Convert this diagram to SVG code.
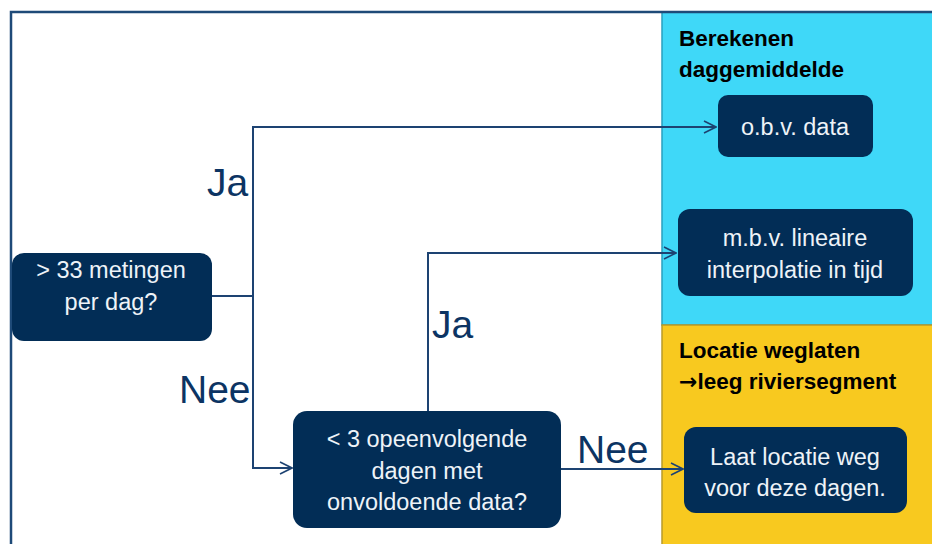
<svg xmlns="http://www.w3.org/2000/svg" width="932" height="544" viewBox="0 0 932 544">
<defs>
<style>
.node rect{fill:#022d56;}
.node text{font-family:"Liberation Sans",Arial,sans-serif;font-size:23.5px;fill:#eef3f8;text-anchor:middle;}
.conn{fill:none;stroke:#1d4372;stroke-width:2;}
.lbl{font-family:"Liberation Sans",Arial,sans-serif;font-size:39px;fill:#0c3463;}
.ttl{font-family:"Liberation Sans",Arial,sans-serif;font-size:22.5px;font-weight:bold;fill:#000;}
.ar{font-family:"DejaVu Sans",sans-serif;font-weight:bold;font-size:22px;}
</style>
<marker id="arr" viewBox="0 0 14 14" refX="13" refY="7" markerWidth="14" markerHeight="14" markerUnits="userSpaceOnUse" orient="auto">
<path d="M1,1 L13,7 L1,13" fill="none" stroke="#1d4372" stroke-width="1.6"/>
</marker>
</defs>
<rect x="0" y="0" width="932" height="544" fill="#fff"/>
<g id="panel-cyan">
<rect x="662" y="12" width="272" height="313" fill="#3fd8f8" stroke="#2aa0bf" stroke-width="1.5"/>
<text class="ttl" x="679" y="46">Berekenen</text>
<text class="ttl" x="679" y="77">daggemiddelde</text>
</g>
<g id="panel-yellow">
<rect x="662" y="325" width="272" height="222" fill="#f8c91f" stroke="#b89a2a" stroke-width="1.5"/>
<text class="ttl" x="679" y="358">Locatie weglaten</text>
<text class="ttl" x="679" y="389"><tspan class="ar">→</tspan>leeg riviersegment</text>
</g>
<path d="M11,546 V12 H934" fill="none" stroke="#1e4a78" stroke-width="2.5"/>
<g id="connectors">
<path class="conn" d="M212,296 H253"/>
<path class="conn" d="M253,468 V127 H716" marker-end="url(#arr)"/>
<path class="conn" d="M253,300 V468 H292" marker-end="url(#arr)"/>
<path class="conn" d="M428,411 V253 H676" marker-end="url(#arr)"/>
<path class="conn" d="M561,469 H683" marker-end="url(#arr)"/>
<text class="lbl" x="207" y="196">Ja</text>
<text class="lbl" x="179" y="403">Nee</text>
<text class="lbl" x="432" y="338">Ja</text>
<text class="lbl" x="577" y="463">Nee</text>
</g>
<g id="n-metingen" class="node">
<rect x="12" y="253" width="200" height="88" rx="12"/>
<text x="111" y="278">&gt; 33 metingen</text>
<text x="111" y="310">per dag?</text>
</g>
<g id="n-opeenvolgend" class="node">
<rect x="293" y="411" width="268" height="117" rx="14"/>
<text x="427" y="447">&lt; 3 opeenvolgende</text>
<text x="427" y="479">dagen met</text>
<text x="427" y="510">onvoldoende data?</text>
</g>
<g id="n-obv" class="node">
<rect x="718" y="95" width="155" height="62" rx="10"/>
<text x="795" y="135">o.b.v. data</text>
</g>
<g id="n-mbv" class="node">
<rect x="678" y="209" width="235" height="87" rx="12"/>
<text x="795" y="246">m.b.v. lineaire</text>
<text x="795" y="278">interpolatie in tijd</text>
</g>
<g id="n-laat" class="node">
<rect x="684" y="427" width="223" height="86" rx="12"/>
<text x="795" y="465">Laat locatie weg</text>
<text x="795" y="496">voor deze dagen.</text>
</g>
</svg>
